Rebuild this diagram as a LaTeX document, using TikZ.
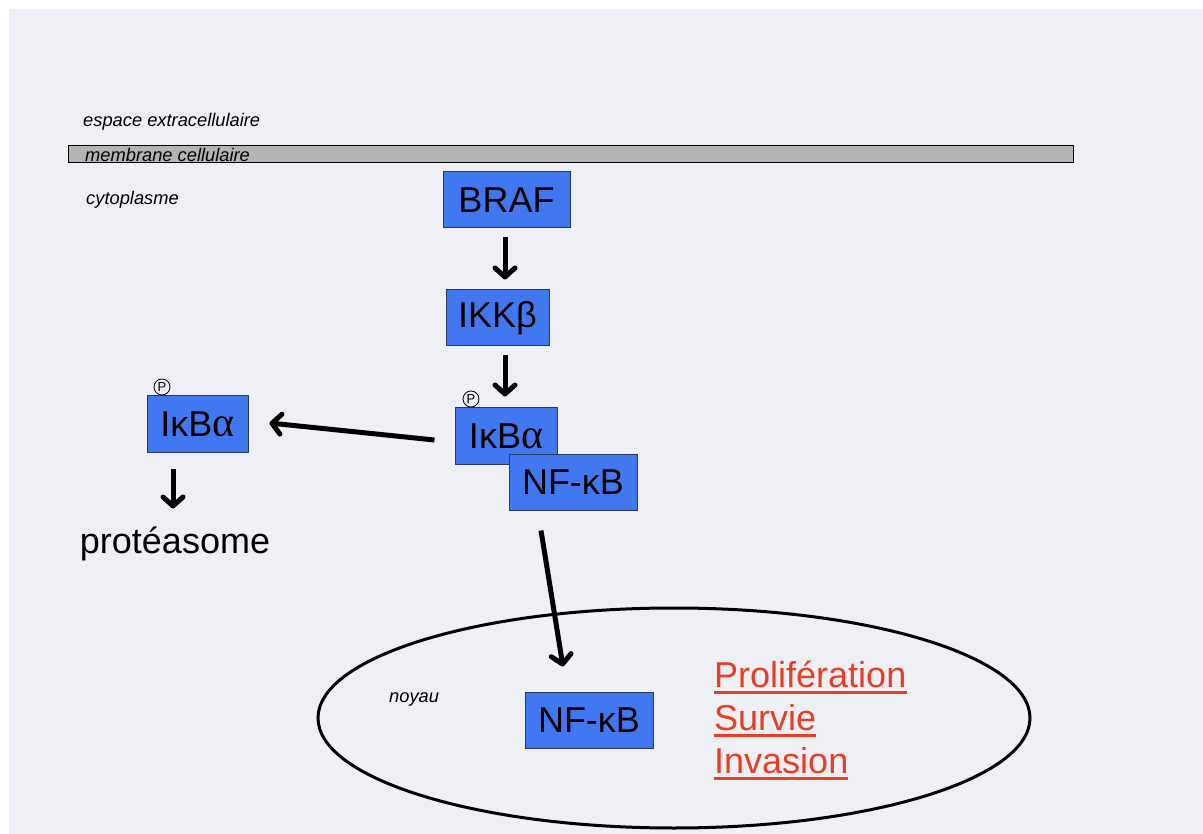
\documentclass[tikz,border=0pt]{standalone}
\usepackage{fontspec}
\setmainfont{Liberation Sans}
\newfontfamily\serifgr{Liberation Serif}
\usetikzlibrary{arrows.meta,shapes.geometric}
\definecolor{bgc}{RGB}{238,240,245}
\definecolor{boxblue}{RGB}{65,120,242}
\definecolor{boxedge}{RGB}{40,55,100}
\definecolor{memgray}{RGB}{180,180,180}
\definecolor{redtxt}{RGB}{232,62,38}
\newcommand{\bigf}{\fontsize{36}{40}\selectfont}
\newcommand{\smallit}{\fontsize{18.3}{22}\selectfont\itshape}
\newcommand{\alf}{{\serifgr\fontsize{42}{42}\selectfont α}}
\tikzset{
  x=1pt, y=-1pt,
  protbox/.style={draw=boxedge, line width=1pt, fill=boxblue, minimum height=56pt, inner sep=0pt, font=\bigf},
  arr/.style={line width=5pt, -{Straight Barb[length=9pt 0 0,width=20pt 0 0,round]}},
  lbl/.style={inner sep=0pt, font=\smallit, anchor=base west},
  pcirc/.style={draw, circle, line width=0.8pt, minimum size=16pt, inner sep=0pt, font=\fontsize{13}{13}\selectfont},
  redlbl/.style={inner sep=0pt, anchor=base west, text=redtxt, font=\bigf},
  uline/.style={draw=redtxt, line width=3pt}
}
\begin{document}
\begin{tikzpicture}
\useasboundingbox (0,0) rectangle (1203,834);
\fill[white] (0,0) rectangle (1203,834);
\fill[bgc] (9,9) rectangle (1203,834);

% membrane
\node[draw, line width=1pt, fill=memgray, minimum width=1005pt, minimum height=17pt, inner sep=0pt] (mem) at (570.5,154.5) {};
\node[lbl] (lext) at (83,127) {espace extracellulaire};
\node[lbl] (lmem) at (85,162) {membrane cellulaire};
\node[lbl] (lcyto) at (86,205) {cytoplasme};

% proteins
\node[protbox, minimum width=127pt] (braf) at (506.5,200) {BRAF};
\node[protbox, minimum width=103pt] (ikk) at (497.5,318) {IKKβ};
\node[protbox, minimum width=102pt] (ikbtop) at (506,436) {IκB\alf};
\node[protbox, minimum width=128pt] (nftop) at (573,482) {NF-κB};
\node[protbox, minimum width=101pt] (ikbleft) at (197.5,424) {IκB\alf};
\node[pcirc] (ptop) at (471,399) {P};
\node[pcirc] (pleft) at (162,387) {P};

\node[inner sep=0pt, anchor=base, font=\bigf] (protea) at (175,553) {protéasome};

% nucleus
\node[draw, line width=3pt, ellipse, minimum width=712pt, minimum height=220pt, inner sep=0pt] (noyau) at (674,718) {};
\node[lbl] (lnoy) at (389,702) {noyau};
\node[protbox, minimum width=128pt] (nfbot) at (589,720) {NF-κB};

\node[redlbl] (p1) at (714,687) {Prolifération};
\node[redlbl] (p2) at (714,730) {Survie};
\node[redlbl] (p3) at (714,773) {Invasion};
\draw[uline] ([yshift=-5pt]p1.base west) -- ([yshift=-5pt]p1.base east);
\draw[uline] ([yshift=-5pt]p2.base west) -- ([yshift=-5pt]p2.base east);
\draw[uline] ([yshift=-5pt]p3.base west) -- ([yshift=-5pt]p3.base east);

% arrows
\draw[arr] ([shift={(-1.5,9)}]braf.south) -- ([shift={(7.5,-10)}]ikk.north);
\draw[arr] ([shift={(7.5,9)}]ikk.south) -- ([shift={(-1,-11)}]ikbtop.north);
\draw[arr] ([shift={(-20,4)}]ikbtop.west) -- ([shift={(21,-1)}]ikbleft.east);
\draw[arr] ([shift={(-24.5,16)}]ikbleft.south) -- ([shift={(-24.5,56)}]ikbleft.south);
\draw[arr] ([shift={(-32,20)}]nftop.south) -- ([shift={(-26,-25)}]nfbot.north);
\end{tikzpicture}
\end{document}
